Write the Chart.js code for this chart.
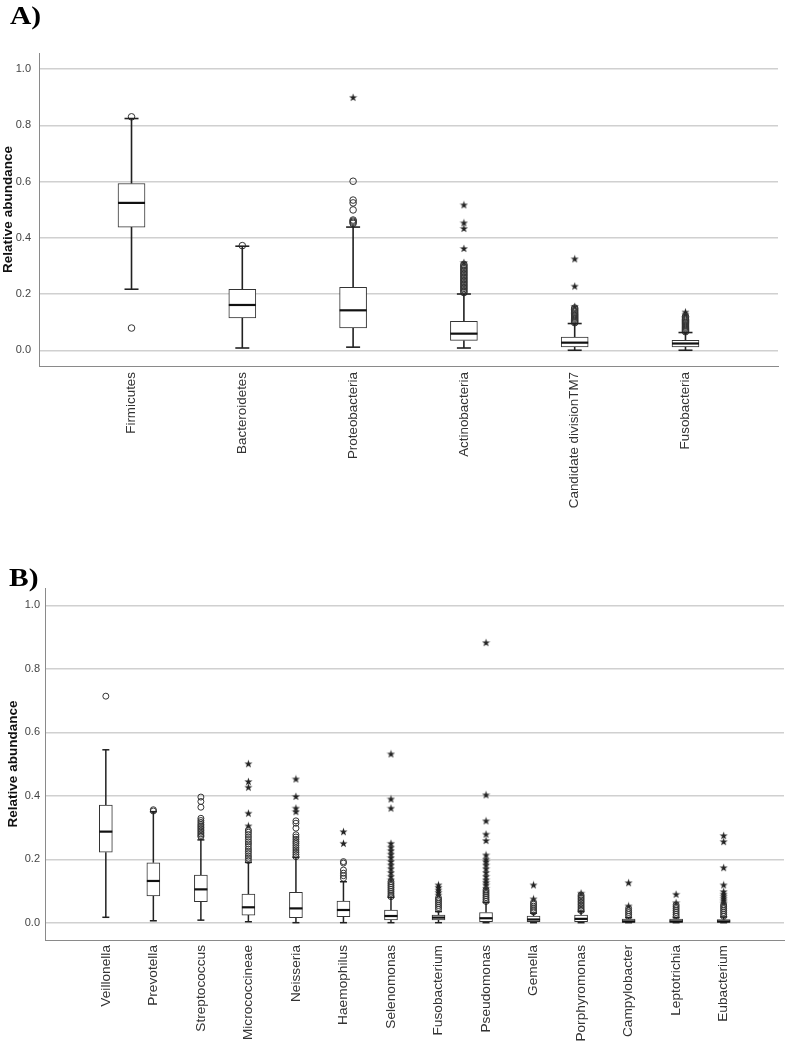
<!DOCTYPE html>
<html><head><meta charset="utf-8">
<script src="https://cdn.jsdelivr.net/npm/chart.js@4"></script>
<style>
body{margin:0;background:#fff;width:787px;height:1044px;position:relative;overflow:hidden}
canvas{position:absolute;left:0}
.lbl{position:absolute;z-index:2;font-family:'Liberation Serif','Times New Roman',serif;font-weight:bold;font-size:25px;color:#000;line-height:1;transform:scaleX(1.18);transform-origin:left top}
</style></head><body>
<canvas id="cA" width="787" height="530" style="top:0"></canvas>
<canvas id="cB" width="787" height="504" style="top:540px"></canvas>
<div class="lbl" style="left:10px;top:3px">A)</div>
<div class="lbl" style="left:9px;top:565px">B)</div>
<script>
// ---------- Panel A data ----------
const catsA = ['Firmicutes','Bacteroidetes','Proteobacteria','Actinobacteria','Candidate divisionTM7','Fusobacteria'];
const minA = [0.217,0.008,0.011,0.008,0.000,0.000];
const q1A  = [0.438,0.115,0.079,0.035,0.012,0.012];
const medA = [0.524,0.161,0.142,0.059,0.027,0.024];
const q3A  = [0.593,0.217,0.224,0.103,0.047,0.035];
const maxA = [0.824,0.370,0.438,0.200,0.095,0.063];
const circlesA = [
  [0.830,0.079],
  [0.372],
  [0.601,0.534,0.524,0.499,0.463,0.459,0.455,0.451],
  [0.305,0.300,0.295,0.290,0.285,0.280,0.275,0.270,0.265,0.260,0.255,0.250,0.245,0.240,0.235,0.230,0.225,0.220,0.215,0.210,0.205],
  [0.150,0.145,0.140,0.135,0.130,0.126,0.122,0.118,0.114,0.110,0.106,0.102,0.098],
  [0.120,0.115,0.110,0.106,0.102,0.098,0.094,0.090,0.086,0.082,0.078,0.074,0.070,0.066]
];
const starsA = [
  [],
  [],
  [0.899],
  [0.517,0.453,0.433,0.362,0.312],
  [0.325,0.228,0.156],
  [0.136,0.128]
];
const yTicks = [0,0.2,0.4,0.6,0.8,1.0];

// ---------- Panel B data ----------
const catsB = ['Veillonella','Prevotella','Streptococcus','Micrococcineae','Neisseria','Haemophilus','Selenomonas','Fusobacterium','Pseudomonas','Gemella','Porphyromonas','Campylobacter','Leptotrichia','Eubacterium'];
const minB = [0.017,0.006,0.008,0.003,0.000,0.000,0.000,0.000,0.000,0.000,0.000,0.000,0.000,0.000];
const q1B  = [0.222,0.084,0.066,0.024,0.016,0.019,0.0085,0.0085,0.003,0.003,0.003,0.001,0.001,0.001];
const medB = [0.287,0.1315,0.105,0.0485,0.045,0.040,0.021,0.016,0.014,0.010,0.012,0.004,0.004,0.004];
const q3B  = [0.371,0.189,0.150,0.0905,0.096,0.068,0.040,0.024,0.032,0.021,0.024,0.011,0.011,0.010];
const maxB = [0.545,0.350,0.261,0.190,0.206,0.129,0.080,0.035,0.064,0.030,0.035,0.016,0.016,0.018];
const circlesB = [
  [0.714],
  [0.352,0.356],
  [0.396,0.382,0.364,0.329,0.322,0.316,0.310,0.305,0.300,0.295,0.290,0.285,0.280,0.275,0.271],
  [0.292,0.285,0.278,0.270,0.262,0.255,0.248,0.240,0.232,0.225,0.218,0.210,0.203,0.196],
  [0.321,0.3135,0.298,0.277,0.270,0.263,0.256,0.250,0.243,0.236,0.229,0.222,0.215,0.208],
  [0.1925,0.188,0.166,0.156,0.148,0.140],
  [0.129,0.123,0.117,0.111,0.105,0.099,0.093,0.087,0.082],
  [0.078,0.072,0.066,0.060,0.054,0.048,0.042],
  [0.103,0.097,0.091,0.085,0.079,0.073,0.067],
  [0.064,0.058,0.052,0.046,0.040,0.034],
  [0.087,0.082,0.077,0.072,0.067,0.062,0.057,0.052,0.047,0.042,0.038],
  [0.045,0.038,0.032,0.026,0.020],
  [0.056,0.050,0.044,0.038,0.032,0.026,0.020],
  [0.056,0.050,0.044,0.038,0.032,0.026,0.020]
];
const starsB = [
  [],
  [],
  [],
  [0.501,0.445,0.427,0.345,0.305],
  [0.453,0.398,0.361,0.350],
  [0.287,0.250],
  [0.532,0.390,0.361,0.250,0.238,0.227,0.216,0.205,0.193,0.182,0.170,0.158,0.146,0.135],
  [0.119,0.111,0.103,0.095,0.087],
  [0.883,0.403,0.321,0.279,0.259,0.2135,0.200,0.1925,0.182,0.170,0.158,0.146,0.135,0.127,0.119,0.1085],
  [0.119,0.075],
  [0.093],
  [0.126,0.0527],
  [0.0895,0.063],
  [0.2745,0.2556,0.1735,0.119,0.098,0.090,0.083,0.076,0.069,0.062]
];

function makeStar(){
  const c=document.createElement('canvas'); c.width=9; c.height=9;
  const g=c.getContext('2d'); g.fillStyle='#222'; g.beginPath();
  for(let k=0;k<10;k++){const r=k%2?1.7:4.3; const a=-Math.PI/2+k*Math.PI/5; g.lineTo(4.5+r*Math.cos(a),4.8+r*Math.sin(a));}
  g.closePath(); g.fill(); return c;
}
const starImg = makeStar();

function build(id, cats, mins, q1s, meds, q3s, maxs, circles, stars, st){
  const pt = (i,v)=>({x:i,y:v});
  const whisk=[]; cats.forEach((c,i)=>{whisk.push(pt(i,q3s[i]),pt(i,maxs[i]),pt(i,null),pt(i,q1s[i]),pt(i,mins[i]),pt(i,null));});
  const caps=[]; cats.forEach((c,i)=>{caps.push(pt(i,maxs[i]),pt(i,mins[i]));});
  const circ=[]; circles.forEach((arr,i)=>arr.forEach(v=>circ.push(pt(i,v))));
  const strs=[]; stars.forEach((arr,i)=>arr.forEach(v=>strs.push(pt(i,v))));
  return new Chart(document.getElementById(id), {
    type:'bar',
    data:{datasets:[
      {type:'scatter', data:cats.map((c,i)=>pt(i,meds[i])), pointStyle:'line', pointRadius:st.boxW/2, pointHoverRadius:st.boxW/2, pointBorderWidth:st.medW, pointBorderColor:'#111', order:0},
      {type:'bar', data:cats.map((c,i)=>({x:i,y:[q1s[i],q3s[i]]})), backgroundColor:'#fff', borderColor:'#333', borderWidth:1, borderSkipped:false, barThickness:st.boxW, order:1},
      {type:'line', data:whisk, borderColor:'#222', borderWidth:st.whW, pointRadius:0, spanGaps:false, fill:false, order:2},
      {type:'scatter', data:caps, pointStyle:'line', pointRadius:st.capW/2, pointHoverRadius:st.capW/2, pointBorderWidth:st.whW, pointBorderColor:'#222', order:2},
      {type:'scatter', data:circ, pointStyle:'circle', pointRadius:st.cr, pointBorderWidth:1, pointBorderColor:'#333', pointBackgroundColor:'rgba(255,255,255,0)', order:3},
      {type:'scatter', data:strs, pointStyle:starImg, pointRadius:4, order:3}
    ]},
    options:{
      responsive:false, animation:false, devicePixelRatio:1,
      layout:{autoPadding:false, padding:{top:st.padTop,right:st.padRight,left:0,bottom:0}},
      plugins:{legend:{display:false},tooltip:{enabled:false}},
      scales:{
        x:{type:'linear', min:st.xmin, max:st.xmax, offset:false,
          grid:{display:false, drawTicks:false},
          border:{display:true,color:'#8a8a8a',width:1},
          afterBuildTicks:s=>{s.ticks=cats.map((c,i)=>({value:i}));},
          afterFit:s=>{s.height=st.xh; s.paddingLeft=0; s.paddingRight=0;},
          ticks:{autoSkip:false,minRotation:90,maxRotation:90,padding:st.xpad,color:'#333',
            font:{family:"'Liberation Sans', Arial, sans-serif",size:st.xfs},
            callback:(v,i)=>cats[i]}
        },
        y:{min:st.ymin,max:st.ymax,
          afterBuildTicks:s=>{s.ticks=yTicks.map(v=>({value:v}));},
          afterFit:s=>{s.width=st.yw; s.paddingTop=0; s.paddingBottom=0;},
          grid:{color:'#d0d0d0',lineWidth:1.4,drawTicks:false},
          border:{display:true,color:'#8a8a8a',width:1},
          ticks:{padding:st.ypad,color:'#444',font:{family:"'Liberation Sans', Arial, sans-serif",size:11},callback:v=>v.toFixed(1)},
          title:{display:true,text:'Relative abundance',color:'#111',padding:{top:st.tpad,bottom:0},
            font:{family:"'Liberation Sans', Arial, sans-serif",size:13.5,weight:'bold'}}
        }
      }
    }
  });
}

build('cA', catsA, minA, q1A, medA, q3A, maxA, circlesA, starsA,
  {boxW:27, capW:14, medW:2.2, whW:1.6, cr:3.3, padTop:53, padRight:9, xmin:-0.835, xmax:5.835,
   xh:164, xpad:6, xfs:13.4, ymin:-0.056, ymax:1.057, yw:39, ypad:8, tpad:0});
build('cB', catsB, minB, q1B, medB, q3B, maxB, circlesB, starsB,
  {boxW:13, capW:7, medW:2.2, whW:1.5, cr:3, padTop:48, padRight:3, xmin:-1.28, xmax:14.27,
   xh:104, xpad:5, xfs:13.7, ymin:-0.0546, ymax:1.055, yw:45, ypad:5, tpad:5});
</script>
</body></html>
